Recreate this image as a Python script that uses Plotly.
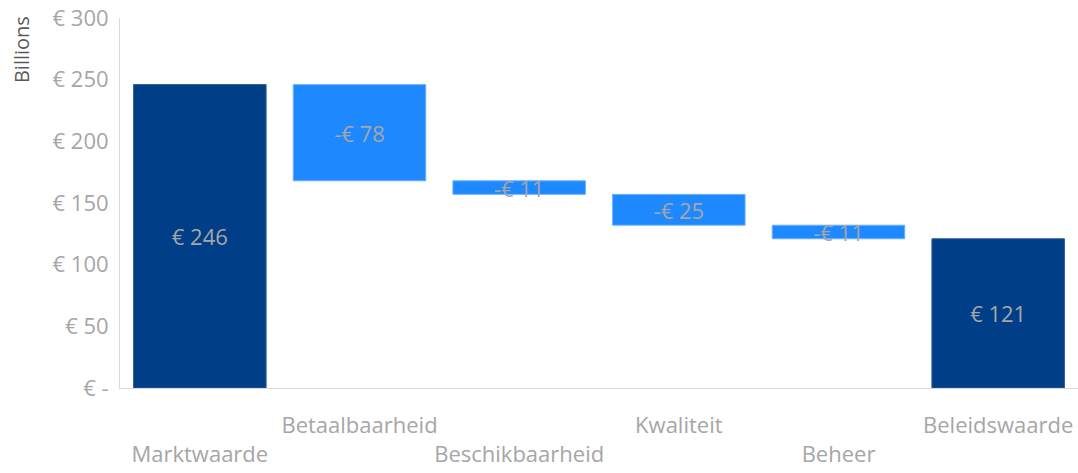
import plotly.graph_objects as go

categories = ["Marktwaarde", "Betaalbaarheid", "Beschikbaarheid", "Kwaliteit", "Beheer", "Beleidswaarde"]
measures = ["absolute", "relative", "relative", "relative", "relative", "total"]
values = [246, -78, -11, -25, -11, 121]
bar_text = ["€ 246", "-€ 78", "-€ 11", "-€ 25", "-€ 11", "€ 121"]
ytick_vals = [0, 50, 100, 150, 200, 250, 300]
ytick_text = ["€ -", "€ 50", "€ 100", "€ 150", "€ 200", "€ 250", "€ 300"]

FONT = "Open Sans"
GRAY = "#A6A6A6"
DARK = "#003F87"
LIGHT = "#1E88FF"

xtick_text = [("<br>" + c) if i % 2 == 0 else c for i, c in enumerate(categories)]

fig = go.Figure(go.Waterfall(
    x=categories,
    y=values,
    measure=measures,
    text=bar_text,
    textposition="inside",
    insidetextanchor="middle",
    constraintext="none",
    textfont=dict(family=FONT, size=22, color=GRAY),
    decreasing=dict(marker=dict(color=LIGHT, line=dict(color="#6FB2FF", width=1))),
    increasing=dict(marker=dict(color=LIGHT, line=dict(color="#6FB2FF", width=1))),
    totals=dict(marker=dict(color=DARK, line=dict(color="#2A5C9C", width=1))),
    connector=dict(visible=False),
))

fig.update_layout(
    width=1078, height=473,
    margin=dict(l=120, r=0, t=18, b=85),
    paper_bgcolor="white", plot_bgcolor="white",
    showlegend=False,
    waterfallgap=0.17,
    font=dict(family=FONT, color=GRAY),
    xaxis=dict(
        tickmode="array", tickvals=categories, ticktext=xtick_text,
        tickfont=dict(family=FONT, size=22, color=GRAY),
        tickangle=0, automargin=False,
        showline=True, linecolor="#D9D9D9", linewidth=1,
        showgrid=False, ticks="", ticklabelstandoff=18,
    ),
    yaxis=dict(
        range=[0, 300], tickmode="array", tickvals=ytick_vals, ticktext=ytick_text,
        tickfont=dict(family=FONT, size=22, color=GRAY),
        automargin=False,
        showline=True, linecolor="#D9D9D9", linewidth=1,
        showgrid=False, zeroline=False, ticks="", ticklabelstandoff=6,
    ),
    annotations=[dict(
        text="Billions", textangle=-90, xref="paper", yref="paper",
        x=-0.102, y=1.01, xanchor="center", yanchor="top", showarrow=False,
        font=dict(family=FONT, size=20, color="#595959"),
    )],
)

fig.write_html("out.html")
